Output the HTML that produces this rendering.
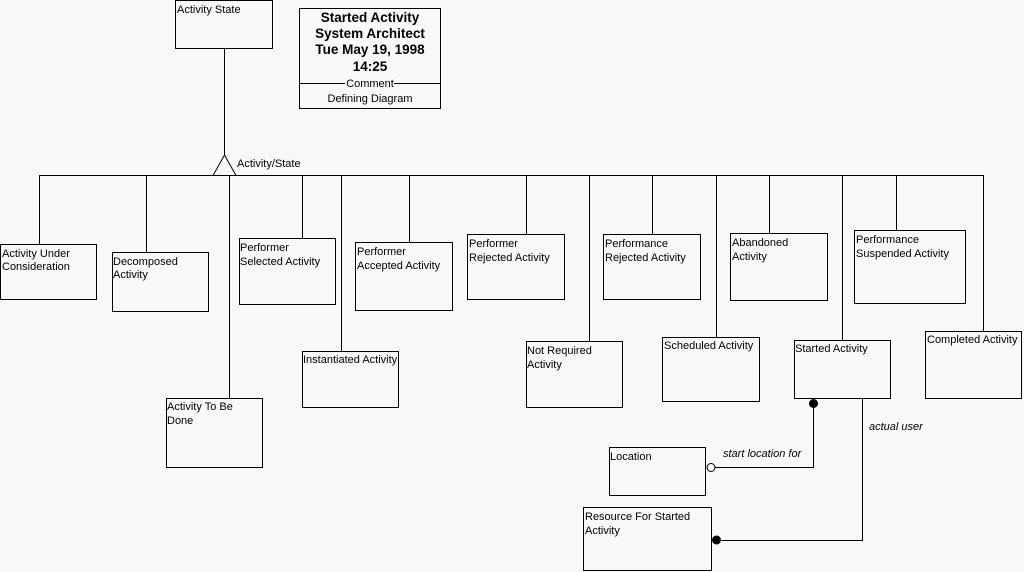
<!DOCTYPE html>
<html><head><style>
html,body{margin:0;padding:0;background:#f8f8f8;}
svg{display:block;}
text{font-family:"Liberation Sans",Arial,sans-serif;font-size:11px;fill:#000;}
</style></head><body>
<svg width="1024" height="572" xmlns="http://www.w3.org/2000/svg">
<rect width="1024" height="572" fill="#f8f8f8"/>
<g fill="none" stroke="#000" stroke-width="1">
<rect x="175.5" y="0.5" width="97" height="48"/>
<rect x="299.5" y="8.5" width="141" height="100"/>
<line x1="300" y1="83.5" x2="345" y2="83.5"/>
<line x1="394" y1="83.5" x2="440" y2="83.5"/>
<line x1="224.5" y1="48" x2="224.5" y2="155"/>
<polyline points="213,175.5 224.5,155 236,175.5"/>
<line x1="39" y1="175.5" x2="983.5" y2="175.5"/>
<!-- children -->
<line x1="39.5" y1="175" x2="39.5" y2="244"/><rect x="0.5" y="244.5" width="96" height="55"/>
<line x1="146.5" y1="175" x2="146.5" y2="252"/><rect x="112.5" y="252.5" width="96" height="59"/>
<line x1="229.5" y1="175" x2="229.5" y2="398"/><rect x="166.5" y="398.5" width="96" height="69"/>
<line x1="302.5" y1="175" x2="302.5" y2="238"/><rect x="239.5" y="238.5" width="96" height="66"/>
<line x1="341.5" y1="175" x2="341.5" y2="351"/><rect x="302.5" y="351.5" width="96" height="56"/>
<line x1="409.5" y1="175" x2="409.5" y2="242"/><rect x="355.5" y="242.5" width="97" height="68"/>
<line x1="526.5" y1="175" x2="526.5" y2="234"/><rect x="467.5" y="234.5" width="97" height="65"/>
<line x1="589.5" y1="175" x2="589.5" y2="341"/><rect x="526.5" y="341.5" width="96" height="66"/>
<line x1="652.5" y1="175" x2="652.5" y2="234"/><rect x="603.5" y="234.5" width="97" height="65"/>
<line x1="716.5" y1="175" x2="716.5" y2="337"/><rect x="662.5" y="337.5" width="97" height="64"/>
<line x1="769.5" y1="175" x2="769.5" y2="233"/><rect x="730.5" y="233.5" width="97" height="67"/>
<line x1="842.5" y1="175" x2="842.5" y2="340"/><rect x="794.5" y="340.5" width="96" height="58"/>
<line x1="896.5" y1="175" x2="896.5" y2="230"/><rect x="854.5" y="230.5" width="111" height="73"/>
<line x1="983.5" y1="175" x2="983.5" y2="331"/><rect x="925.5" y="331.5" width="96" height="67"/>
<rect x="609.5" y="447.5" width="96" height="48"/>
<rect x="583.5" y="507.5" width="128" height="63"/>
<polyline points="813.5,403 813.5,467.5 715,467.5"/>
<polyline points="862.5,398 862.5,540.5 719,540.5"/>
<circle cx="711" cy="467.5" r="4" fill="#fff"/>
</g>
<circle cx="813.5" cy="403.5" r="4.5" fill="#000"/>
<circle cx="716.5" cy="540" r="4.5" fill="#000"/>
<text x="177" y="13">Activity State</text>
<g font-weight="bold" text-anchor="middle" style="font-size:13.5px">
<text x="370" y="22" style="font-size:13.5px;font-weight:bold">Started Activity</text>
<text x="370" y="38" style="font-size:13.5px;font-weight:bold">System Architect</text>
<text x="370" y="54" style="font-size:13.5px;font-weight:bold">Tue May 19, 1998</text>
<text x="370" y="71" style="font-size:13.5px;font-weight:bold">14:25</text>
</g>
<text x="370" y="87" text-anchor="middle">Comment</text>
<text x="370" y="102" text-anchor="middle">Defining Diagram</text>
<text x="237" y="167">Activity/State</text>
<text x="2" y="257">Activity Under</text><text x="2" y="270">Consideration</text>
<text x="113" y="265">Decomposed</text><text x="113" y="278">Activity</text>
<text x="167" y="410">Activity To Be</text><text x="167" y="424">Done</text>
<text x="240" y="251">Performer</text><text x="240" y="265">Selected Activity</text>
<text x="303" y="363">Instantiated Activity</text>
<text x="357" y="255">Performer</text><text x="357" y="269">Accepted Activity</text>
<text x="469" y="247">Performer</text><text x="469" y="261">Rejected Activity</text>
<text x="527" y="354">Not Required</text><text x="527" y="368">Activity</text>
<text x="605" y="247">Performance</text><text x="605" y="261">Rejected Activity</text>
<text x="664" y="349">Scheduled Activity</text>
<text x="732" y="246">Abandoned</text><text x="732" y="260">Activity</text>
<text x="795" y="352">Started Activity</text>
<text x="856" y="243">Performance</text><text x="856" y="257">Suspended Activity</text>
<text x="927" y="343">Completed Activity</text>
<text x="610" y="460">Location</text>
<text x="585" y="520">Resource For Started</text><text x="585" y="534">Activity</text>
<text x="723" y="457" font-style="italic">start location for</text>
<text x="869" y="430" font-style="italic">actual user</text>
</svg>
</body></html>
